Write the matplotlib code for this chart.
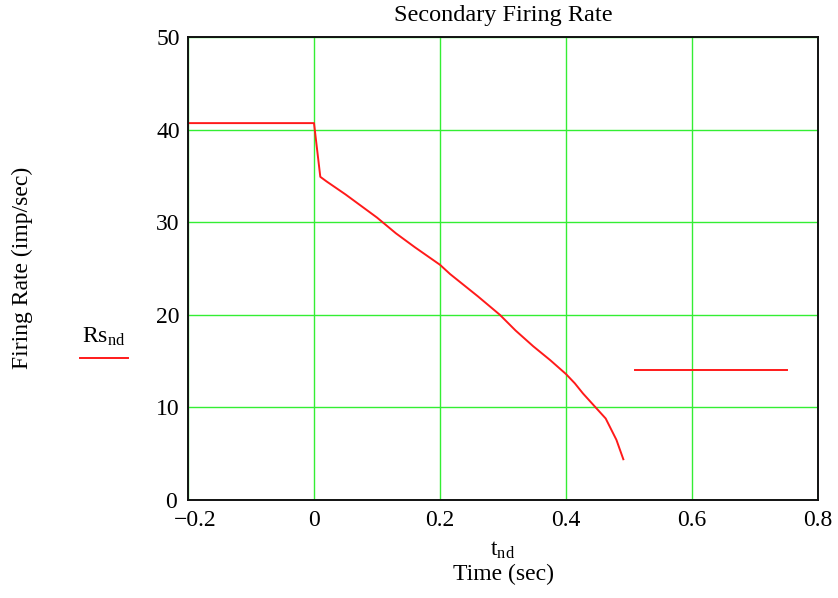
import matplotlib

matplotlib.use("Agg")
import matplotlib.pyplot as plt
from matplotlib.transforms import ScaledTranslation

# Secondary firing rate, time in seconds
t_ramp = [-0.2, 0.0, 0.01, 0.02, 0.05, 0.08, 0.10, 0.13, 0.16, 0.20, 0.216, 0.26,
          0.295, 0.32, 0.348, 0.375, 0.40, 0.414, 0.427, 0.447, 0.463, 0.48, 0.491]
rs_ramp = [40.7, 40.7, 34.9, 34.4, 33.0, 31.5, 30.5, 28.8, 27.3, 25.4, 24.4, 22.0,
           20.0, 18.3, 16.6, 15.1, 13.6, 12.6, 11.5, 10.0, 8.8, 6.5, 4.4]

t_tail = [0.51, 0.75]
rs_tail = [14.0, 14.0]

x_ticks = [-0.2, 0.0, 0.2, 0.4, 0.6, 0.8]
x_tick_labels = ["\u22120.2", "0", "0.2", "0.4", "0.6", "0.8"]
y_ticks = [0, 10, 20, 30, 40, 50]

plt.rcParams["font.family"] = ["Liberation Serif", "DejaVu Serif"]
plt.rcParams["mathtext.fontset"] = "custom"
plt.rcParams["mathtext.rm"] = "Liberation Serif"
plt.rcParams["mathtext.it"] = "Liberation Serif"

FS = 17
RED = "#ff1a1a"

fig = plt.figure(figsize=(8.38, 5.98), dpi=100)
ax = fig.add_axes([188 / 838, 98 / 598, 630 / 838, 463 / 598])

ax.plot(t_ramp, rs_ramp, color=RED, linewidth=1.4)
ax.plot(t_tail, rs_tail, color=RED, linewidth=1.4)

ax.set_xlim(-0.2, 0.8)
ax.set_ylim(0, 50)
ax.set_xticks(x_ticks)
ax.set_xticklabels(x_tick_labels)
ax.set_yticks(y_ticks)
ax.grid(True, color="#33ee33", linewidth=1.0)
ax.set_axisbelow(True)
ax.tick_params(length=0, labelsize=FS)
ax.tick_params(axis="x", pad=7)
ax.tick_params(axis="y", pad=6)
for spine in ax.spines.values():
    spine.set_linewidth(1.4)
    spine.set_color("#111111")


def nudge(label, dx_px):
    label.set_transform(label.get_transform()
                        + ScaledTranslation(dx_px / fig.dpi, 0, fig.dpi_scale_trans))


# keep the corner labels apart: -0.2 goes right, the y-axis zero goes left
nudge(ax.get_xticklabels()[0], 7)
nudge(ax.get_yticklabels()[0], -3)

fig.text(0.5 * (188 + 818) / 838, 1 - 15 / 598, "Secondary Firing Rate",
         ha="center", va="center", fontsize=FS + 0.5)
fig.text(22 / 838, 1 - 268 / 598, "Firing Rate (imp/sec)", rotation=90,
         ha="center", va="center", fontsize=FS)
fig.text(104 / 838, 1 - 337 / 598, r"Rs$_{\mathrm{nd}}$", ha="center", va="center", fontsize=FS)
fig.add_artist(plt.Line2D([80 / 838, 128 / 838], [1 - 358 / 598, 1 - 358 / 598],
                          color=RED, linewidth=1.4))
fig.text(503 / 838, 1 - 550 / 598, r"t$_{\mathrm{nd}}$", ha="center", va="center", fontsize=FS)
fig.text(503 / 838, 1 - 574 / 598, "Time (sec)", ha="center", va="center", fontsize=FS)

fig.savefig("out.png", dpi=100)
